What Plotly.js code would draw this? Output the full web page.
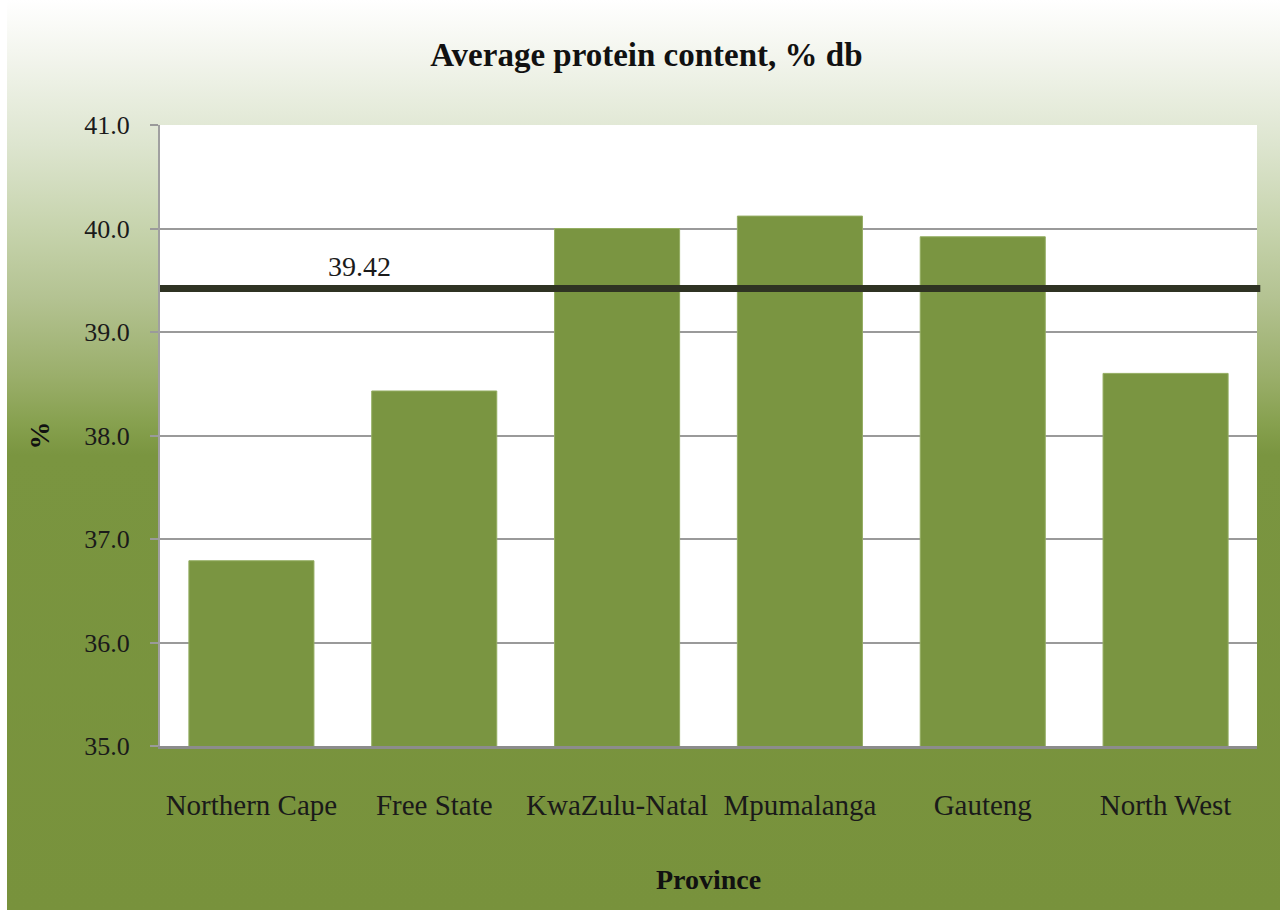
<!DOCTYPE html>
<html>
<head>
<meta charset="utf-8">
<script src="https://cdn.plot.ly/plotly-3.0.1.min.js"></script>
<style>
  html, body { margin: 0; padding: 0; background: #ffffff; }
  #chart {
    width: 1280px; height: 910px;
    background:
      linear-gradient(to right, #ffffff 0px, #ffffff 7px, rgba(255,255,255,0) 7px),
      linear-gradient(to bottom, #ffffff 0px, #f4f6ef 50px, #dde5cf 145px, #c6d3ac 230px, #b3c291 300px, #9aae6a 377px, #86a04e 425px, #7a9540 455px, #78923c 910px);
  }
</style>
</head>
<body>
<div id="chart"></div>
<script>
const provinces = ["Northern Cape", "Free State", "KwaZulu-Natal", "Mpumalanga", "Gauteng", "North West"];
const proteinValues = [36.79, 38.43, 40.0, 40.12, 39.92, 38.60];
const averageValue = 39.42;
const averageLabel = "39.42";
const yTickValues = [35, 36, 37, 38, 39, 40, 41];
const yTickLabels = ["35.0", "36.0", "37.0", "38.0", "39.0", "40.0", "41.0"];

const fontFamily = "Liberation Serif";

const trace = {
  type: "bar",
  x: provinces,
  y: proteinValues,
  marker: { color: "#7a9541", line: { color: "#94ad62", width: 1 } },
  hoverinfo: "x+y"
};

const layout = {
  width: 1280, height: 910,
  paper_bgcolor: "rgba(0,0,0,0)",
  plot_bgcolor: "#ffffff",
  margin: { l: 160, r: 23, t: 125, b: 164 },
  bargap: 0.316,
  showlegend: false,
  font: { family: fontFamily, color: "#1a1a1a", size: 26 },
  title: {
    text: "<b>Average protein content, % db</b>",
    font: { family: fontFamily, size: 33, color: "#111111" },
    x: 0.505, xanchor: "center", y: 0.94, yanchor: "middle"
  },
  xaxis: {
    type: "category",
    showgrid: false,
    showline: true, linecolor: "#8c8c8c", linewidth: 3,
    ticks: "", ticklabelstandoff: 31,
    tickfont: { family: fontFamily, size: 29, color: "#1a1a1a" },
    title: { text: "<b>Province</b>", font: { family: fontFamily, size: 28, color: "#111111" }, standoff: 50 }
  },
  yaxis: {
    range: [35, 41],
    tickvals: yTickValues, ticktext: yTickLabels,
    showgrid: true, gridcolor: "#9a9a9a", gridwidth: 2,
    showline: true, linecolor: "#a0a0a0", linewidth: 2,
    ticks: "outside", ticklen: 8, tickcolor: "#9a9a9a", tickwidth: 2,
    ticklabelstandoff: 15,
    tickfont: { family: fontFamily, size: 26, color: "#1a1a1a" },
    zeroline: false,
    title: { text: "<b>%</b>", font: { family: fontFamily, size: 28, color: "#111111" }, standoff: 26 }
  },
  shapes: [{
    type: "line", xref: "paper", yref: "y",
    x0: 0, x1: 1.003, y0: averageValue, y1: averageValue,
    line: { color: "#2f3323", width: 7 }
  }],
  annotations: [{
    xref: "paper", yref: "y",
    x: 0.182, y: averageValue, yanchor: "bottom", xanchor: "center", yshift: 5,
    text: averageLabel, showarrow: false,
    font: { family: fontFamily, size: 28, color: "#1a1a1a" }
  }]
};

Plotly.newPlot("chart", [trace], layout, { displayModeBar: false, staticPlot: true });
</script>
</body>
</html>
